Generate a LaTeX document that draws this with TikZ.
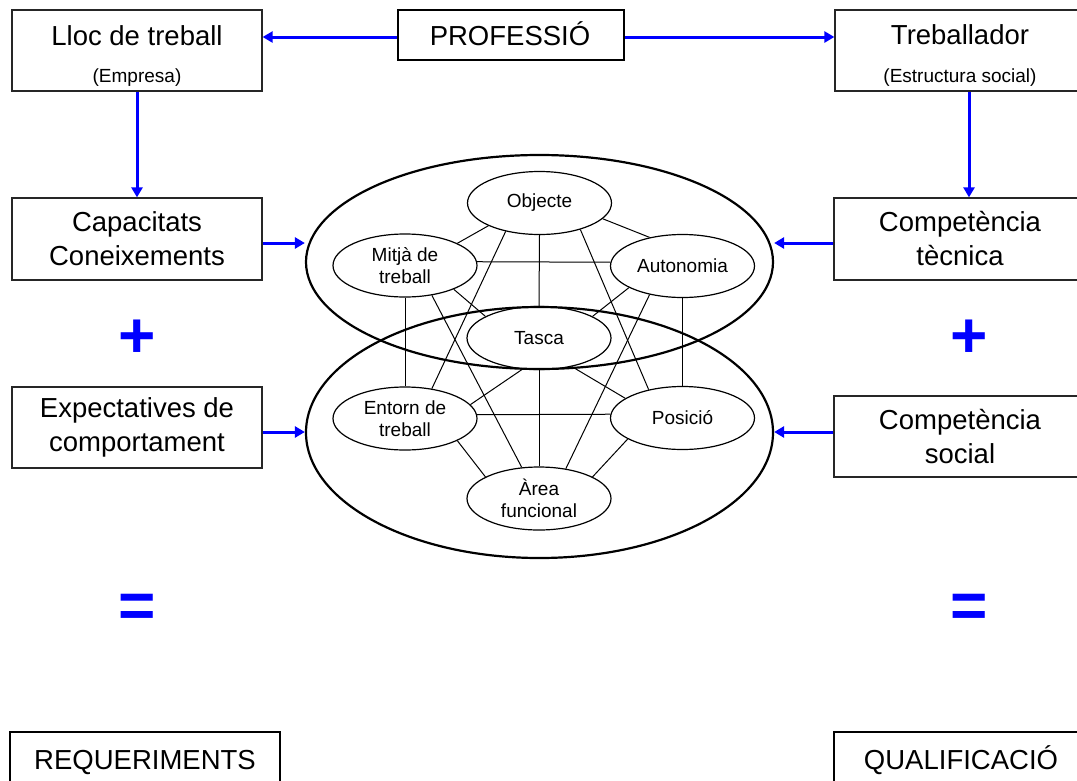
\documentclass[tikz,border=0pt]{standalone}
\usepackage{fontspec}
\setmainfont{Liberation Sans}
\usetikzlibrary{shapes.geometric,arrows.meta,calc}

\definecolor{flowblue}{RGB}{0,0,255}

\begin{document}
\begin{tikzpicture}[x=1pt,y=-1pt,
  bigtext/.style={font=\fontsize{27.5}{34}\selectfont},
  smalltext/.style={font=\fontsize{19}{22}\selectfont},
  box/.style={draw=black!85, line width=1.3pt, minimum width=250pt,
    minimum height=81pt, inner sep=0pt, align=center, bigtext},
  keybox/.style={draw=black, line width=2.6pt, inner sep=0pt},
  shell/.style={draw=black, line width=2.2pt, ellipse, minimum width=467pt, inner sep=0pt},
  facet/.style={draw=black, line width=1.2pt, ellipse, minimum width=144pt,
    minimum height=63pt, inner sep=0pt, align=center, smalltext},
  link/.style={draw=black, line width=1pt},
  flow/.style={draw=flowblue, line width=3pt, -{Triangle[length=10pt,width=11pt]}},
  sign/.style={text=flowblue, font=\fontsize{64}{64}\selectfont\bfseries, inner sep=0pt}
]
\useasboundingbox (0,0) rectangle (1077,780);
\clip (0,0) rectangle (1077,780);

% top row
\node[box] (lloc) at (137,50.5) {};
\node[bigtext] (llocT) at (137,36) {Lloc de treball};
\node[smalltext] (llocS) at (137,78) {(Empresa)};
\node[keybox, minimum width=226pt, minimum height=50pt] (prof) at (511,35) {};
\node[bigtext, anchor=base] (profT) at (510,45) {PROFESSI\'O};
\node[box] (treb) at (960,50.5) {};
\node[bigtext] (trebT) at (960,35) {Treballador};
\node[smalltext] (trebS) at (960,78) {(Estructura social)};

% side boxes
\node[box, minimum height=82pt] (cap) at (137,239) {Capacitats\\Coneixements};
\node[box] (expc) at (137,427.5) {Expectatives de\\comportament};
\node[box, minimum width=252pt, minimum height=82pt] (ctec) at (960,239) {Compet\`encia\\t\`ecnica};
\node[box, minimum width=252pt] (csoc) at (960,436.5) {Compet\`encia\\social};

% signs
\node[sign] (plusL) at (137,339) {+};
\node[sign] (plusR) at (969,339) {+};
\node[sign] (eqL) at (137,611) {=};
\node[sign] (eqR) at (969,611) {=};

% result boxes
\node[keybox, minimum width=270pt, minimum height=60pt] (req) at (145,762) {};
\node[bigtext, anchor=base] (reqT) at (145,769) {REQUERIMENTS};
\node[keybox, minimum width=254pt, minimum height=60pt] (qual) at (961,762) {};
\node[bigtext, anchor=base] (qualT) at (961,769) {QUALIFICACI\'O};

% two shells
\node[shell, minimum height=214pt] (upper) at (539.5,262) {};
\node[shell, minimum height=251pt] (lower) at (539.5,432.5) {};

% facets
\node[facet] (obj) at (539.5,203) {Objecte};
\node[facet] (mit) at (405,265.5) {Mitj\`a de\\treball};
\node[facet] (aut) at (682.5,266) {Autonomia};
\node[facet] (tas) at (539,338) {Tasca};
\node[facet] (ent) at (405,418.5) {Entorn de\\treball};
\node[facet] (pos) at (682.5,418) {Posici\'o};
\node[facet] (are) at (539,498.5) {\`Area\\funcional};

% links between facets
\draw[link] (obj.204) -- (mit.23);
\draw[link] (obj.346) -- (aut.139);
\draw[link] (obj.south) -- (tas.north);
\draw[link] (obj.327) -- (pos.140);
\draw[link] (obj.220) -- (ent.48);
\draw[link] (mit.3) -- (aut.177);
\draw[link] (mit.south) -- (ent.north);
\draw[link] (mit.334) -- (tas.158);
\draw[link] (mit.312) -- (are.119);
\draw[link] (aut.202) -- (tas.22);
\draw[link] (aut.south) -- (pos.north);
\draw[link] (aut.221) -- (are.48);
\draw[link] (tas.242) -- (ent.12);
\draw[link] (tas.319) -- (pos.161);
\draw[link] (tas.south) -- (are.north);
\draw[link] (ent.3) -- (pos.177);
\draw[link] (ent.337) -- (are.158);
\draw[link] (pos.201) -- (are.22);

% flow arrows
\draw[flow] ([yshift=-2pt]prof.west) -- ([yshift=-2pt]prof.west -| lloc.east);
\draw[flow] ([yshift=-2pt]prof.east) -- ([yshift=-2pt]prof.east -| treb.west);
\draw[flow] (lloc.south) -- (cap.north);
\draw[flow] ([xshift=9pt]treb.south) -- ([xshift=9pt]ctec.north);
\draw[flow] ([yshift=-4pt]cap.east) -- ([yshift=-4pt]cap.east -| upper.west);
\draw[flow] ([yshift=-4.5pt]expc.east) -- ([yshift=-4.5pt]expc.east -| lower.west);
\draw[flow] ([yshift=-4pt]ctec.west) -- ([yshift=-4pt]ctec.west -| upper.east);
\draw[flow] ([yshift=4.5pt]csoc.west) -- ([yshift=4.5pt]csoc.west -| lower.east);
\end{tikzpicture}
\end{document}
